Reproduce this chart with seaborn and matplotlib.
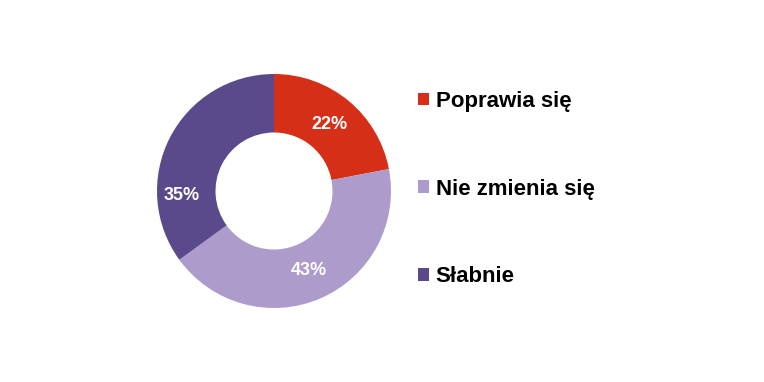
import matplotlib
matplotlib.use("Agg")
import matplotlib.pyplot as plt
import numpy as np
import seaborn as sns
from matplotlib.patches import Patch

# ─── Data ─────────────────────────────────────────────────────────────────────
categories = ["Poprawia się", "Nie zmienia się", "Słabnie"]
shares     = [22, 43, 35]
colors     = ["#D62F17", "#AD9CCB", "#5B4A8B"]

sns.set_theme(style="white")
plt.rcParams["font.family"] = ["Liberation Sans", "DejaVu Sans"]

fig = plt.figure(figsize=(7.64, 3.82), dpi=100)
ax = fig.add_axes([157 / 764, 74 / 382, 234 / 764, 234 / 382])

wedges, texts, autotexts = ax.pie(
    shares,
    colors=colors,
    startangle=90,
    counterclock=False,
    radius=1.0,
    wedgeprops=dict(width=0.5, edgecolor="none"),
    autopct=lambda p: f"{p:.0f}%",
    pctdistance=0.74,
    textprops=dict(color="white", fontsize=13, fontweight="bold"),
)
# the last label sits lower-left in the original
autotexts[2].set_position((0.79 * np.cos(np.radians(183)), 0.79 * np.sin(np.radians(183))))

ax.set_xlim(-1, 1)
ax.set_ylim(-1, 1)
ax.set_aspect("equal")
ax.axis("off")

handles = [Patch(facecolor=c, edgecolor="none") for c in colors]
leg = fig.legend(
    handles, categories,
    loc="upper left",
    bbox_to_anchor=(418 / 764, 1 - 91 / 382),
    frameon=False,
    prop=dict(size=16, weight="bold"),
    labelcolor="black",
    handlelength=0.5,
    handleheight=0.5,
    handletextpad=0.3,
    labelspacing=3.0,
    borderaxespad=0,
    borderpad=0,
)

fig.savefig("out.png", dpi=100)
